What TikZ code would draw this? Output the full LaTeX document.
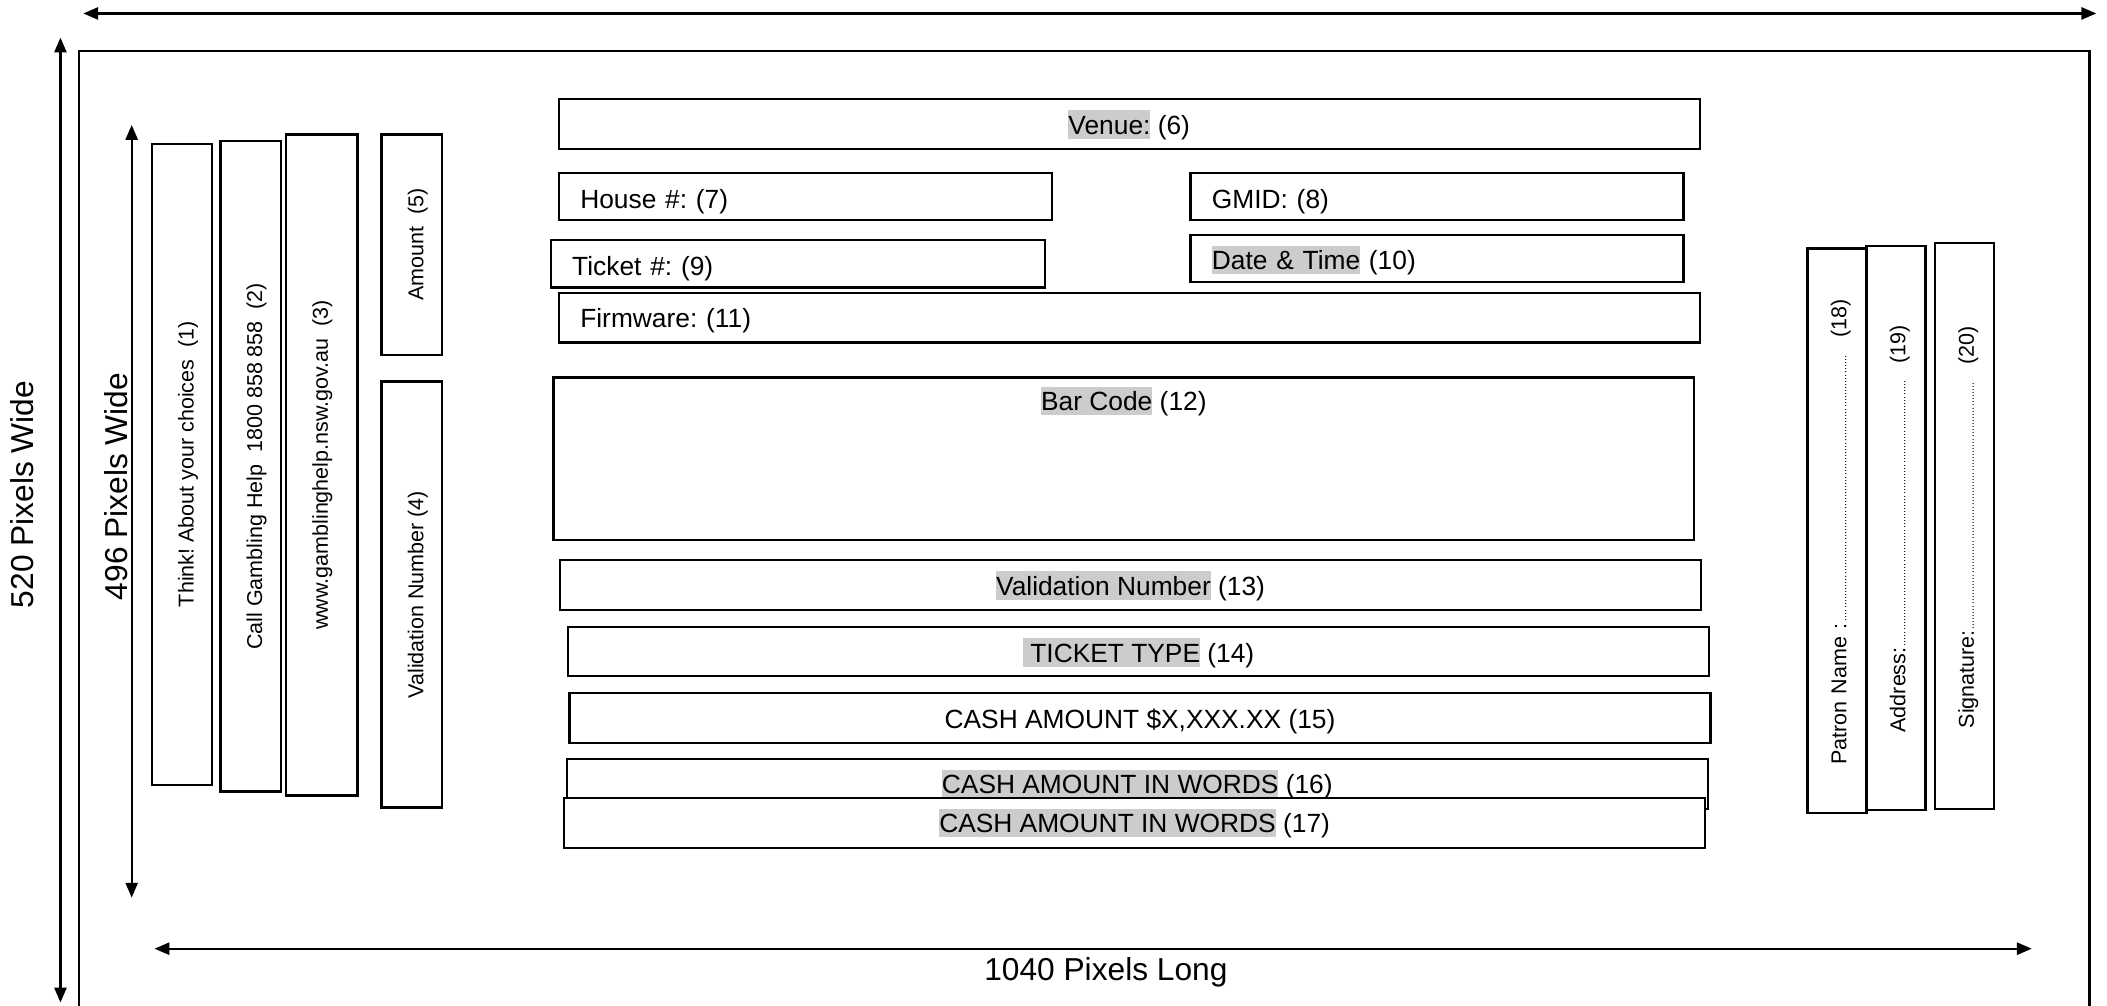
\documentclass[tikz,border=0pt]{standalone}
\usepackage{fontspec}
\setmainfont{Liberation Sans}
\usetikzlibrary{arrows.meta}
\frenchspacing
\definecolor{hlgray}{RGB}{204,204,204}
\newcommand\hlt[1]{{\setlength{\fboxsep}{0pt}\colorbox{hlgray}{\rule[-0.17em]{0pt}{1.08em}#1}}}
\newcommand\dotrun[1]{\leaders\hbox to 2.3pt{\hss\fontsize{8}{8}\selectfont.\hss}\hskip #1\relax}
\begin{document}
\begin{tikzpicture}[x=1pt,y=-1pt,
  frame/.style={draw, line width=1.6pt},
  box/.style={draw, line width=1.7pt, fill=white, inner sep=0pt,
    font=\fontsize{19.6}{23}\selectfont, text height=26pt},
  lbox/.style={box, align=left, inner xsep=16pt},
  vbox/.style={draw, line width=1.7pt, fill=white, inner sep=0pt, rotate=90,
    font=\fontsize{16}{19}\selectfont, text height=31pt},
  rbox/.style={draw, line width=1.7pt, fill=white, inner sep=0pt, rotate=90,
    font=\fontsize{16}{19}\selectfont, text height=29pt, text depth=15pt,
    minimum width=420pt, text width=420pt, align=left},
  dim/.style={line width=1.6pt, {Triangle[length=11pt,width=9pt]}-{Triangle[length=11pt,width=9pt]}},
  dimlabel/.style={font=\fontsize{23.6}{28}\selectfont, inner sep=0pt, anchor=base},
]
\useasboundingbox (0,0) rectangle (1568,748);
% outer frame (bottom edge lies beyond the page)
\draw[frame] (59,38) rectangle (1555,780);

% dimension arrows
\coordinate (topL) at (62,10);
\coordinate (topR) at (1560,10);
\coordinate (leftT) at (45,28);
\coordinate (leftB) at (45,746);
\coordinate (innT) at (98,93);
\coordinate (innB) at (98,668);
\coordinate (botL) at (115,706);
\coordinate (botR) at (1512,706);
\draw[dim] (topL) -- (topR);
\draw[dim] (leftT) -- (leftB);
\draw[dim] (innT) -- (innB);
\draw[dim] (botL) -- (botR);
\node[dimlabel, rotate=90] (w520) at (25,368) {520 Pixels Wide};
\node[dimlabel, rotate=90] (w496) at (95,362) {496 Pixels Wide};
\node[dimlabel] (l1040) at (823,730) {1040 Pixels Long};

% left vertical boxes
\node[vbox, minimum width=477pt, text depth=14pt] (b1) at (135.5,345.5) {Think! About your choices~ (1)};
\node[vbox, minimum width=484pt, text depth=14pt] (b2) at (186.5,347) {Call Gambling Help~ 1800 858 858~ (2)};
\node[vbox, minimum width=492pt, text depth=22pt] (b3) at (239.5,346) {www.gamblinghelp.nsw.gov.au~ (3)};
\node[vbox, minimum width=164pt, text depth=14pt] (b5) at (306.5,182) {Amount~ (5)};
\node[vbox, minimum width=317pt, text depth=14pt] (b4) at (306.5,442.5) {Validation Number (4)};

% centre boxes
\node[box, minimum width=849pt, text depth=11pt, anchor=north west] (b6) at (415,73) {\hlt{Venue:} (6)};
\node[lbox, text width=335pt, text depth=9pt, anchor=north west] (b7) at (415,128) {House \#: (7)};
\node[lbox, text width=335pt, text depth=9pt, anchor=north west] (b8) at (885,128) {GMID: (8)};
\node[lbox, text width=336pt, text depth=9pt, anchor=north west] (b9) at (409,178) {Ticket \#: (9)};
\node[lbox, text width=335pt, text depth=9pt, anchor=north west] (b10) at (885,174) {\hlt{Date \& Time} (10)};
\node[lbox, text width=817pt, text depth=11pt, anchor=north west] (b11) at (415,217) {Firmware: (11)};
\node[box, minimum width=849pt, text height=25pt, text depth=96pt, anchor=north west] (b12) at (411,280) {\hlt{Bar Code} (12)};
\node[box, minimum width=849pt, text depth=11pt, anchor=north west] (b13) at (416,416) {\hlt{Validation Number} (13)};
\node[box, minimum width=849pt, text depth=10pt, anchor=north west] (b14) at (422,466) {\hlt{\ TICKET TYPE} (14)};
\node[box, minimum width=849pt, text depth=11pt, anchor=north west] (b15) at (423,515) {CASH AMOUNT \$X,XXX.XX (15)};
\node[box, minimum width=849pt, text depth=11pt, anchor=north west] (b16) at (421,564) {\hlt{CASH AMOUNT IN WORDS} (16)};
\node[box, minimum width=849pt, text depth=11pt, anchor=north west] (b17) at (419,593) {\hlt{CASH AMOUNT IN WORDS} (17)};

% right vertical boxes
\node[rbox] (b18) at (1367,395) {\hspace*{36pt}Patron Name :\dotrun{201pt}\hspace{12pt}(18)};
\node[rbox] (b19) at (1411,393) {\hspace*{58pt}Address:\dotrun{199pt}\hspace{12pt}(19)};
\node[rbox, minimum width=421pt, text width=421pt] (b20) at (1462,391.5) {\hspace*{60pt}Signature:\dotrun{186pt}\hspace{12pt}(20)};
\end{tikzpicture}
\end{document}
